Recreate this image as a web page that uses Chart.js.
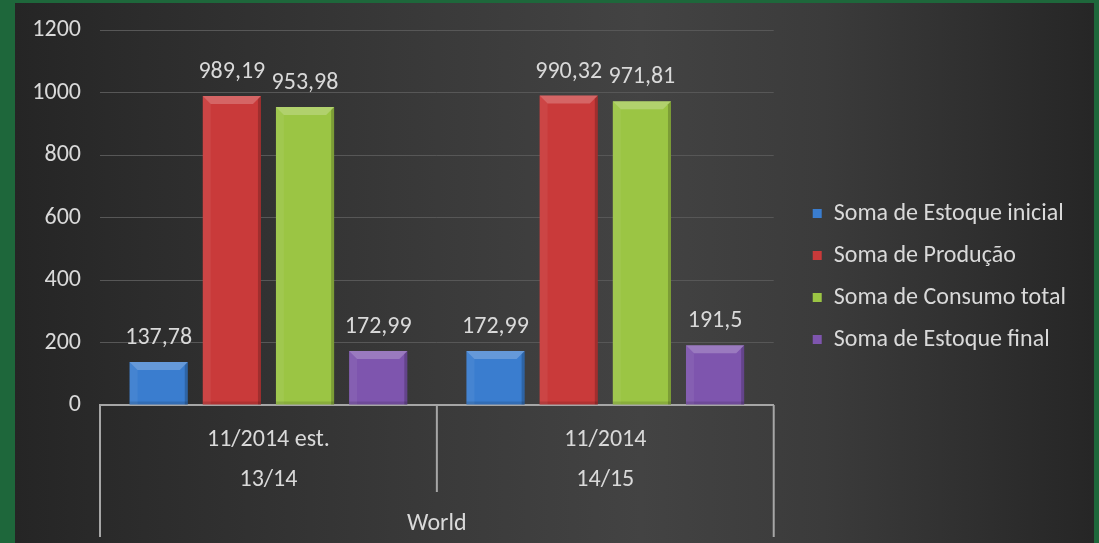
<!DOCTYPE html>
<html>
<head>
<meta charset="utf-8">
<script src="https://cdn.jsdelivr.net/npm/chart.js@4.4.1/dist/chart.umd.min.js"></script>
<style>
  html, body { margin: 0; padding: 0; width: 1099px; height: 543px; overflow: hidden; background: #1e673b; }
  #wrap {
    position: absolute; left: 15px; top: 3px; width: 1079px; height: 540px;
    background: linear-gradient(to right, #252525 0%, #2c2c2c 12%, #383838 35%, #434343 58%, #3b3b3b 75%, #262626 100%);
  }
  canvas { display: block; }
</style>
</head>
<body>
<div id="wrap"><canvas id="chart" width="1079" height="540"></canvas></div>
<script>
const categories = [['11/2014 est.', '13/14'], ['11/2014', '14/15']];
const groupLabel = 'World';
const seriesNames = ['Soma de Estoque inicial', 'Soma de Produção', 'Soma de Consumo total', 'Soma de Estoque final'];
const estoqueInicial = [137.78, 172.99];
const producao = [989.19, 990.32];
const consumoTotal = [953.98, 971.81];
const estoqueFinal = [172.99, 191.5];
const yMax = 1200;
const yStep = 200;

const colors = ['#3a7dcf', '#c93a3a', '#9bc544', '#7e55ae'];
const txt = '#d9d9d9';

// calibri look-alike if there is one, else Lato a bit smaller
function hasFont(name) {
  const c = document.createElement('canvas').getContext('2d');
  const s = 'Soma de Estoque 1200';
  c.font = '40px monospace';
  const a = c.measureText(s).width;
  c.font = '40px "' + name + '", monospace';
  return c.measureText(s).width !== a;
}
const carlito = hasFont('Carlito');
const font = carlito ? 'Carlito' : 'Lato, "Noto Sans", sans-serif';
const fs = carlito ? 24 : 21;

// bevel look like the excel bars
const bevelPlugin = {
  id: 'bevel',
  afterDatasetsDraw(chart) {
    const ctx = chart.ctx;
    ctx.save();
    chart.data.datasets.forEach((ds, i) => {
      chart.getDatasetMeta(i).data.forEach(bar => {
        const l = bar.x - bar.width / 2, r = bar.x + bar.width / 2;
        const t = bar.y, b = bar.base, e = 8;
        ctx.fillStyle = 'rgba(255,255,255,0.22)';
        ctx.beginPath();
        ctx.moveTo(l, t); ctx.lineTo(r, t); ctx.lineTo(r - e, t + e); ctx.lineTo(l + e, t + e);
        ctx.closePath(); ctx.fill();
        ctx.fillStyle = 'rgba(255,255,255,0.06)';
        ctx.beginPath();
        ctx.moveTo(l, t); ctx.lineTo(l + e, t + e); ctx.lineTo(l + e, b); ctx.lineTo(l, b);
        ctx.closePath(); ctx.fill();
        ctx.fillStyle = 'rgba(0,0,0,0.2)';
        ctx.beginPath();
        ctx.moveTo(r, t); ctx.lineTo(r - 3, t + 3); ctx.lineTo(r - 3, b); ctx.lineTo(r, b);
        ctx.closePath(); ctx.fill();
        ctx.fillStyle = 'rgba(0,0,0,0.12)';
        ctx.fillRect(l, b - 3, bar.width, 3);
      });
    });
    ctx.restore();
  }
};

const valueLabels = {
  id: 'valueLabels',
  afterDatasetsDraw(chart) {
    const ctx = chart.ctx;
    ctx.save();
    ctx.font = fs + 'px ' + font;
    ctx.fillStyle = txt;
    ctx.textAlign = 'center';
    ctx.textBaseline = 'alphabetic';
    chart.data.datasets.forEach((ds, i) => {
      chart.getDatasetMeta(i).data.forEach((bar, j) => {
        ctx.fillText(String(ds.data[j]).replace('.', ','), bar.x, bar.y - 18);
      });
    });
    ctx.restore();
  }
};

// the grouping lines under the x axis
const groupLines = {
  id: 'groupLines',
  afterDraw(chart) {
    const ctx = chart.ctx;
    const x = chart.scales.x;
    const y0 = chart.chartArea.bottom;
    const mid = (x.getPixelForTick(0) + x.getPixelForTick(1)) / 2;
    ctx.save();
    ctx.strokeStyle = '#a6a6a6';
    ctx.lineWidth = 2;
    ctx.beginPath();
    ctx.moveTo(x.left, y0); ctx.lineTo(x.left, y0 + 132);
    ctx.moveTo(mid, y0); ctx.lineTo(mid, y0 + 87);
    ctx.moveTo(x.right, y0); ctx.lineTo(x.right, y0 + 132);
    ctx.stroke();
    ctx.restore();
  }
};

// legend sits a little above the middle in the original
const legendNudge = {
  id: 'legendNudge',
  afterLayout(chart) {
    chart.legend.top -= 10;
    chart.legend.bottom -= 10;
  }
};

const data = {
  labels: categories,
  datasets: [estoqueInicial, producao, consumoTotal, estoqueFinal].map((d, i) => ({
    label: seriesNames[i],
    data: d,
    backgroundColor: colors[i],
    borderWidth: 0,
    barPercentage: 0.795,
    categoryPercentage: 0.869
  }))
};

new Chart(document.getElementById('chart'), {
  type: 'bar',
  data: data,
  plugins: [bevelPlugin, valueLabels, groupLines, legendNudge],
  options: {
    responsive: false,
    animation: false,
    devicePixelRatio: 1,
    layout: { padding: { left: 0, top: 27, right: 18, bottom: 0 } },
    plugins: {
      tooltip: { enabled: false },
      legend: {
        position: 'right',
        maxWidth: 340,
        labels: {
          color: txt,
          font: { family: font, size: carlito ? 24 : 22 },
          boxWidth: 9,
          boxHeight: 9,
          padding: carlito ? 18 : 20
        }
      }
    },
    scales: {
      x: {
        afterFit(s) { s.height = 138; },
        grid: { display: false, drawTicks: false },
        border: { display: true, color: '#a6a6a6', width: 2 },
        ticks: {
          color: txt,
          font: { family: font, size: carlito ? 24 : 19, lineHeight: carlito ? 40 / 24 : 40 / 19 },
          padding: 15,
          maxRotation: 0
        },
        title: {
          display: true,
          text: groupLabel,
          color: txt,
          font: { family: font, size: carlito ? 24 : 20 },
          padding: { top: 16, bottom: 5 }
        }
      },
      y: {
        min: 0,
        max: yMax,
        // keep the wide label gap without it pushing the plot down
        afterFit(s) { s.width = 85; s.paddingTop = 10; },
        grid: { color: '#575757', lineWidth: 1, drawTicks: false },
        border: { display: false },
        ticks: {
          stepSize: yStep,
          color: txt,
          font: { family: font, size: carlito ? 24 : 21 },
          padding: 19,
          callback: v => String(v)
        }
      },
      gap: {
        position: 'right',
        display: true,
        afterFit(s) { s.width = 21; },
        grid: { display: false },
        border: { display: false },
        ticks: { display: false }
      }
    }
  }
});
</script>
</body>
</html>
